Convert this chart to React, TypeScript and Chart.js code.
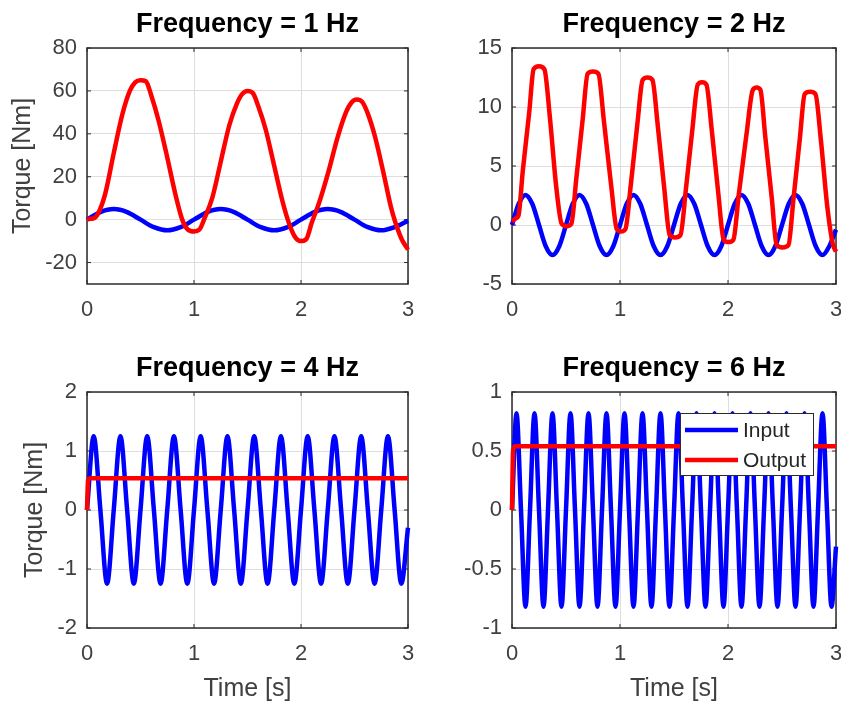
import React, { useEffect, useRef } from "react";
import { Chart, registerables } from "chart.js";

Chart.register(...registerables);

const FONT_FAMILY = "'Liberation Sans', Arial, Helvetica, sans-serif";
const TEXT_COLOR = "#404040";
const GRID_COLOR = "#dedede";
const FRAME_COLOR = "#2b2b2b";
const INPUT_COLOR = "#0000ff";
const OUTPUT_COLOR = "#ff0000";

const seriesLabels = ["Input", "Output"];
const panelTitles = ["Frequency = 1 Hz", "Frequency = 2 Hz", "Frequency = 4 Hz", "Frequency = 6 Hz"];
const yAxisTitle = "Torque [Nm]";
const xAxisTitle = "Time [s]";
const timeTicks = [0, 1, 2, 3];
const timeRange = [0, 3];

const yTicks1 = [-20, 0, 20, 40, 60, 80];
const yRange1 = [-30, 80];
const yTicks2 = [-5, 0, 5, 10, 15];
const yRange2 = [-5, 15];
const yTicks4 = [-2, -1, 0, 1, 2];
const yRange4 = [-2, 2];
const yTicks6 = [-1, -0.5, 0, 0.5, 1];
const yRange6 = [-1, 1];

// ---- 1 Hz ----
const input1Step = 0.125;
const input1Torque = [
  0, 3.5, 4.9, 3.5, 0, -3.5, -5, -3.5,
  0, 3.5, 4.9, 3.5, 0, -3.5, -5, -3.5,
  0, 3.5, 4.9, 3.5, 0, -3.5, -5, -3.5,
  -0.5,
];
const output1Time = [
  0, 0.06, 0.1, 0.17, 0.25, 0.33, 0.4, 0.45, 0.5,
  0.55, 0.6, 0.67, 0.75, 0.83, 0.89, 0.94, 1.0,
  1.05, 1.1, 1.17, 1.25, 1.33, 1.4, 1.45, 1.5,
  1.55, 1.6, 1.67, 1.75, 1.83, 1.89, 1.95, 2.0,
  2.05, 2.1, 2.17, 2.26, 2.34, 2.42, 2.47, 2.52,
  2.57, 2.62, 2.69, 2.77, 2.84, 2.88, 2.94, 3.0,
];
const output1Torque = [
  0.3, 0.5, 2.5, 12, 31, 49, 60, 64, 65,
  64.5, 58, 46, 29, 11, 0, -4.5, -5.5,
  -4.7, 0.8, 10, 27, 44, 54, 58.5, 60,
  59, 53, 42, 25, 8, -2, -8.5, -10,
  -9, -1.5, 8, 23, 38, 50, 54.5, 56,
  55, 50, 39, 22, 6, -1, -9, -14,
];

// ---- 2 Hz ----
const input2Step = 0.0625;
const input2Torque = [
  0, 1.8, 2.55, 1.8, 0, -1.8, -2.55, -1.8,
  0, 1.8, 2.55, 1.8, 0, -1.8, -2.55, -1.8,
  0, 1.8, 2.55, 1.8, 0, -1.8, -2.55, -1.8,
  0, 1.8, 2.55, 1.8, 0, -1.8, -2.55, -1.8,
  0, 1.8, 2.55, 1.8, 0, -1.8, -2.55, -1.8,
  0, 1.8, 2.55, 1.8, 0, -1.8, -2.55, -1.8,
  -0.4,
];
const output2Time = [
  0, 0.04, 0.06, 0.1, 0.16, 0.2, 0.25, 0.3, 0.35, 0.41,
  0.46, 0.505, 0.55, 0.595, 0.655, 0.7, 0.75, 0.8, 0.85, 0.92,
  0.97, 1.01, 1.05, 1.1, 1.16, 1.21, 1.255, 1.3, 1.35, 1.41,
  1.46, 1.51, 1.56, 1.61, 1.67, 1.72, 1.76, 1.8, 1.85, 1.91,
  1.96, 2.005, 2.05, 2.1, 2.17, 2.23, 2.265, 2.3, 2.345, 2.405,
  2.45, 2.505, 2.56, 2.605, 2.665, 2.71, 2.76, 2.81, 2.86, 2.92,
  2.97, 3.0,
];
const output2Torque = [
  0.3, 0.6, 0.8, 4.6, 9.6, 13.2, 13.45, 13.2, 9.2, 3.2,
  0.1, -0.1, 0.1, 3.9, 9.0, 12.8, 13.0, 12.8, 8.9, 3.2,
  -0.35, -0.55, -0.35, 3.4, 8.5, 12.3, 12.5, 12.3, 8.4, 3.1,
  -0.85, -1.05, -0.85, 3.0, 8.1, 11.9, 12.1, 11.9, 8.0, 2.7,
  -1.25, -1.45, -1.25, 2.6, 7.6, 11.45, 11.65, 11.45, 7.5, 2.3,
  -1.7, -1.9, -1.7, 2.1, 7.3, 11.1, 11.3, 11.1, 7.2, 1.5,
  -1.6, -2.25,
];

// ---- 4 Hz ----
const input4Step = 0.0625;
const input4Torque = [
  0, 1.25, 0, -1.25, 0, 1.25, 0, -1.25, 0, 1.25, 0, -1.25,
  0, 1.25, 0, -1.25, 0, 1.25, 0, -1.25, 0, 1.25, 0, -1.25,
  0, 1.25, 0, -1.25, 0, 1.25, 0, -1.25, 0, 1.25, 0, -1.25,
  0, 1.25, 0, -1.25, 0, 1.25, 0, -1.25, 0, 1.25, 0, -1.25,
  -0.3,
];
const output4Time = [0, 0.01, 0.03, 3.0];
const output4Torque = [0, 0.5, 0.54, 0.54];

// ---- 6 Hz ----
const input6Step = 1 / 24;
const input6Torque = [
  0, 0.82, 0, -0.82, 0, 0.82, 0, -0.82, 0, 0.82, 0, -0.82,
  0, 0.82, 0, -0.82, 0, 0.82, 0, -0.82, 0, 0.82, 0, -0.82,
  0, 0.82, 0, -0.82, 0, 0.82, 0, -0.82, 0, 0.82, 0, -0.82,
  0, 0.82, 0, -0.82, 0, 0.82, 0, -0.82, 0, 0.82, 0, -0.82,
  0, 0.82, 0, -0.82, 0, 0.82, 0, -0.82, 0, 0.82, 0, -0.82,
  0, 0.82, 0, -0.82, 0, 0.82, 0, -0.82, 0, 0.82, 0, -0.82,
  -0.31,
];
const output6Time = [0, 0.01, 0.03, 3.0];
const output6Torque = [0, 0.5, 0.54, 0.54];

type Series = { label: string; color: string; times: number[]; values: number[]; order: number };

function sampled(step: number, values: number[]) {
  return values.map((_, i) => Math.round(i * step * 100000) / 100000);
}

const framePlugin = {
  id: "matlabFrame",
  beforeDatasetsDraw(chart: any) {
    const { ctx, chartArea: a, scales } = chart;
    ctx.save();
    ctx.strokeStyle = FRAME_COLOR;
    ctx.lineWidth = 1.5;
    ctx.strokeRect(a.left, a.top, a.right - a.left, a.bottom - a.top);
    ctx.lineWidth = 1;
    const tl = 4;
    ctx.beginPath();
    scales.x.ticks.forEach((t: any) => {
      const px = scales.x.getPixelForValue(t.value);
      ctx.moveTo(px, a.bottom);
      ctx.lineTo(px, a.bottom - tl);
      ctx.moveTo(px, a.top);
      ctx.lineTo(px, a.top + tl);
    });
    scales.y.ticks.forEach((t: any) => {
      const py = scales.y.getPixelForValue(t.value);
      ctx.moveTo(a.left, py);
      ctx.lineTo(a.left + tl, py);
      ctx.moveTo(a.right, py);
      ctx.lineTo(a.right - tl, py);
    });
    ctx.stroke();
    ctx.restore();
  },
};

const boxLegendPlugin = {
  id: "boxLegend",
  afterDraw(chart: any) {
    const { ctx, chartArea: a } = chart;
    const w = 133;
    const h = 62;
    const left = a.right - 23 - w;
    const top = a.top + 21;
    ctx.save();
    ctx.fillStyle = "#ffffff";
    ctx.fillRect(left, top, w, h);
    ctx.strokeStyle = FRAME_COLOR;
    ctx.lineWidth = 1;
    ctx.strokeRect(left + 0.5, top + 0.5, w, h);
    const items = [...chart.data.datasets].sort(
      (p: any, q: any) => seriesLabels.indexOf(p.label) - seriesLabels.indexOf(q.label)
    );
    items.forEach((ds: any, i: number) => {
      const y = top + 17 + i * 30;
      ctx.strokeStyle = ds.borderColor;
      ctx.lineWidth = 4.5;
      ctx.beginPath();
      ctx.moveTo(left + 5, y);
      ctx.lineTo(left + 58, y);
      ctx.stroke();
      ctx.fillStyle = "#262626";
      ctx.font = `21px ${FONT_FAMILY}`;
      ctx.textBaseline = "middle";
      ctx.textAlign = "left";
      ctx.fillText(ds.label, left + 63, y + 1);
    });
    ctx.restore();
  },
};

type PanelProps = {
  left: number;
  top: number;
  width: number;
  height: number;
  area: { left: number; right: number; top: number; bottom: number };
  title: string;
  titlePadTop: number;
  yTicks: number[];
  yRange: number[];
  yTitlePad?: number;
  showXTitle?: boolean;
  series: Series[];
  legend?: boolean;
};

function Panel(p: PanelProps) {
  const ref = useRef<HTMLCanvasElement>(null);
  useEffect(() => {
    const tickFont = { family: FONT_FAMILY, size: 22 };
    const axisTitleFont = { family: FONT_FAMILY, size: 25 };
    const titleSize = 27;
    const config: any = {
      type: "line",
      data: {
        datasets: p.series.map((s) => ({
          label: s.label,
          data: s.times.map((t, k) => ({ x: t, y: s.values[k] })),
          borderColor: s.color,
          backgroundColor: s.color,
          borderWidth: 4.5,
          pointRadius: 0,
          pointHoverRadius: 0,
          cubicInterpolationMode: "monotone",
          fill: false,
          clip: false,
          order: s.order,
          borderJoinStyle: "round",
          borderCapStyle: "butt",
        })),
      },
      options: {
        responsive: false,
        animation: false,
        events: [],
        layout: { padding: { left: 0, right: p.width - p.area.right, top: 0, bottom: 0 } },
        plugins: {
          legend: { display: false },
          tooltip: { enabled: false },
          title: {
            display: true,
            text: p.title,
            fullSize: false,
            color: "#000000",
            font: { family: FONT_FAMILY, size: titleSize, weight: "bold", lineHeight: 1.2 },
            padding: { top: p.titlePadTop, bottom: p.area.top - p.titlePadTop - titleSize * 1.2 },
          },
        },
        scales: {
          x: {
            type: "linear",
            min: timeRange[0],
            max: timeRange[1],
            afterBuildTicks: (s: any) => {
              s.ticks = timeTicks.map((v) => ({ value: v }));
            },
            afterFit: (s: any) => {
              s.height = p.height - p.area.bottom;
              s.paddingLeft = 0;
              s.paddingRight = 0;
            },
            grid: { color: GRID_COLOR, lineWidth: 1, drawTicks: false },
            border: { display: false },
            ticks: {
              font: tickFont,
              color: TEXT_COLOR,
              padding: 13,
              maxRotation: 0,
              autoSkip: false,
              callback: (v: number) => String(v),
            },
            title: {
              display: !!p.showXTitle,
              text: xAxisTitle,
              font: axisTitleFont,
              color: TEXT_COLOR,
              padding: 0,
            },
          },
          y: {
            type: "linear",
            min: p.yRange[0],
            max: p.yRange[1],
            afterBuildTicks: (s: any) => {
              s.ticks = p.yTicks.map((v) => ({ value: v }));
            },
            afterFit: (s: any) => {
              s.width = p.area.left;
              s.paddingTop = 0;
              s.paddingBottom = 0;
            },
            grid: { color: GRID_COLOR, lineWidth: 1, drawTicks: false },
            border: { display: false },
            ticks: {
              font: tickFont,
              color: TEXT_COLOR,
              padding: 10,
              autoSkip: false,
              callback: (v: number) => String(v),
            },
            title: {
              display: p.yTitlePad !== undefined,
              text: yAxisTitle,
              font: axisTitleFont,
              color: TEXT_COLOR,
              padding: { top: p.yTitlePad ?? 0, bottom: 0 },
            },
          },
        },
      },
      plugins: p.legend ? [framePlugin, boxLegendPlugin] : [framePlugin],
    };
    const chart = new Chart(ref.current as HTMLCanvasElement, config);
    return () => chart.destroy();
  }, []);
  return (
    <canvas
      ref={ref}
      width={p.width}
      height={p.height}
      style={{ position: "absolute", left: p.left, top: p.top, width: p.width, height: p.height }}
    />
  );
}

function makeSeries(inStep: number, inVals: number[], outTimes: number[], outVals: number[]): Series[] {
  return [
    { label: seriesLabels[0], color: INPUT_COLOR, times: sampled(inStep, inVals), values: inVals, order: 2 },
    { label: seriesLabels[1], color: OUTPUT_COLOR, times: outTimes, values: outVals, order: 1 },
  ];
}

export default function App() {
  return (
    <div style={{ position: "absolute", left: 0, top: 0, width: 841, height: 704, background: "#ffffff" }}>
      <Panel
        left={0}
        top={0}
        width={420}
        height={340}
        area={{ left: 87, right: 408, top: 48, bottom: 284 }}
        title={panelTitles[0]}
        titlePadTop={8.5}
        yTicks={yTicks1}
        yRange={yRange1}
        yTitlePad={8.5}
        series={makeSeries(input1Step, input1Torque, output1Time, output1Torque)}
      />
      <Panel
        left={420}
        top={0}
        width={421}
        height={340}
        area={{ left: 92, right: 416, top: 48, bottom: 284 }}
        title={panelTitles[1]}
        titlePadTop={8.5}
        yTicks={yTicks2}
        yRange={yRange2}
        series={makeSeries(input2Step, input2Torque, output2Time, output2Torque)}
      />
      <Panel
        left={0}
        top={340}
        width={420}
        height={364}
        area={{ left: 87, right: 408, top: 52, bottom: 288 }}
        title={panelTitles[2]}
        titlePadTop={12.4}
        yTicks={yTicks4}
        yRange={yRange4}
        yTitlePad={20}
        showXTitle
        series={makeSeries(input4Step, input4Torque, output4Time, output4Torque)}
      />
      <Panel
        left={420}
        top={340}
        width={421}
        height={364}
        area={{ left: 92, right: 416, top: 52, bottom: 288 }}
        title={panelTitles[3]}
        titlePadTop={12.4}
        yTicks={yTicks6}
        yRange={yRange6}
        showXTitle
        legend
        series={makeSeries(input6Step, input6Torque, output6Time, output6Torque)}
      />
    </div>
  );
}
